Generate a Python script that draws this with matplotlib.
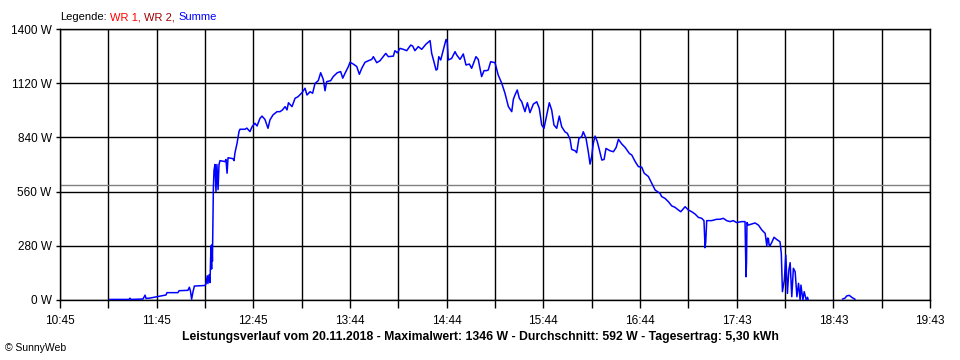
import numpy as np
import matplotlib.pyplot as plt
from matplotlib.offsetbox import TextArea, HPacker, AnchoredOffsetbox

plt.rcParams['font.family'] = ['Liberation Sans', 'DejaVu Sans']

# Summe power curve, minutes after 10:45 and watts
t_min = [31.0, 42.8, 43.4, 44.1, 51.5, 52.8, 53.4, 55.9, 59.0, 65.8, 66.4, 73.2, 73.9,
         79.4, 80.3, 81.0, 81.7, 82.5, 83.4, 90.0, 90.6, 91.4, 91.8, 92.5, 93.1, 93.7,
         94.1, 94.3, 94.6, 95.2, 95.6, 96.2, 96.8, 97.4, 98.1, 98.7, 99.3, 102.4, 103.0,
         103.7, 104.3, 107.4, 108.0, 108.6, 109.9, 111.1, 111.7, 114.8, 116.0, 117.9,
         119.2, 121.0, 122.3, 124.1, 125.4, 127.2, 129.1, 130.3, 132.2, 134.7, 136.6,
         138.1, 139.7, 140.9, 141.8, 144.0, 145.9, 147.7, 150.2, 152.1, 153.3, 155.2,
         156.8, 158.3, 160.3, 161.8, 163.4, 164.5, 165.5, 168.0, 169.6, 172.1, 174.2,
         175.5, 176.9, 179.0, 180.0, 182.0, 184.2, 185.8, 187.3, 189.3, 191.4, 193.5,
         194.5, 196.6, 198.6, 200.3, 202.2, 203.8, 206.9, 207.9, 209.4, 211.0, 213.1,
         215.2, 217.7, 218.9, 220.3, 222.4, 224.5, 227.2, 229.7, 230.7, 232.1, 233.4,
         234.2, 235.1, 236.3, 237.9, 239.6, 240.4, 241.0, 243.1, 245.2, 246.2, 248.3,
         250.3, 252.0, 254.1, 255.5, 258.2, 259.6, 261.7, 263.2, 264.8, 265.8, 267.3,
         270.0, 272.0, 274.2, 276.2, 278.3, 280.4, 281.4, 282.4, 283.8, 285.1, 286.6,
         288.6, 290.1, 291.7, 293.8, 295.9, 297.5, 299.0, 300.4, 302.1, 303.7, 305.2,
         306.6, 308.3, 309.9, 311.4, 313.4, 314.9, 316.6, 317.6, 319.7, 320.7, 322.1,
         323.8, 324.8, 326.5, 327.9, 329.0, 330.0, 331.0, 332.1, 333.5, 334.8, 336.3,
         337.7, 338.9, 341.4, 343.5, 345.2, 346.6, 348.7, 350.8, 353.4, 354.9, 357.0,
         359.0, 361.1, 362.6, 365.2, 367.3, 369.4, 372.4, 373.5, 375.5, 377.6, 379.7,
         381.7, 383.8, 385.3, 388.0, 390.0, 392.1, 394.2, 396.2, 398.3, 399.7, 400.4,
         400.8, 401.4, 404.5, 407.6, 409.7, 411.7, 413.8, 415.9, 417.9, 420.0, 423.1,
         425.2, 425.8, 426.1, 426.4, 427.2, 429.4, 431.4, 433.5, 435.6, 437.7, 438.7,
         439.2, 439.7, 440.1, 440.6, 441.7, 443.2, 444.8, 446.9, 447.7, 448.4, 449.6,
         450.5, 451.5, 452.4, 453.2, 454.2, 455.2, 456.3, 457.4, 458.4, 459.4, 459.9,
         461.1, 461.9, 463.2, 464.0, 464.4, 475.0, 485.8, 487.3, 488.3, 489.9, 491.4,
         493.4]
p_w = [3, 3, 9, 3, 5, 25, 8, 10, 15, 26, 38, 38, 48,
       50, 66, 45, 4, 40, 72, 75, 83, 125, 85, 130, 90, 280,
       160, 285, 200, 580, 670, 700, 560, 700, 570, 700, 720, 715, 726,
       655, 735, 730, 720, 760, 810, 870, 882, 882, 888, 870,
       895, 913, 899, 938, 950, 933, 887, 930, 956, 973, 973,
       982, 999, 982, 1019, 999, 1042, 1050, 1071, 1094, 1059, 1076,
       1068, 1119, 1133, 1174, 1140, 1081, 1128, 1133, 1154, 1174, 1180,
       1146, 1171, 1206, 1228, 1219, 1206, 1166, 1197, 1228, 1236, 1243,
       1257, 1226, 1236, 1254, 1274, 1257, 1260, 1288, 1277, 1300, 1295,
       1288, 1317, 1312, 1288, 1309, 1295, 1322, 1340, 1274, 1231, 1188,
       1192, 1257, 1240, 1291, 1346, 1329, 1240, 1248, 1283, 1266, 1243,
       1271, 1214, 1219, 1197, 1257, 1243, 1154, 1185, 1185, 1188, 1231,
       1226, 1162, 1119, 1068, 999, 973, 1037, 1059, 1085, 1042, 1024,
       973, 1019, 968, 1012, 1024, 990, 904, 887, 956, 1019, 981,
       904, 887, 950, 895, 869, 861, 830, 778, 771, 761, 835,
       844, 869, 835, 766, 702, 740, 809, 847, 818, 775, 723,
       726, 783, 771, 766, 788, 830, 806, 788, 757, 749, 715,
       689, 686, 655, 638, 603, 568, 551, 534, 525, 508, 486,
       479, 465, 456, 482, 465, 456, 444, 427, 422, 410, 270,
       300, 410, 410, 417, 417, 422, 410, 405, 410, 400, 405,
       405, 120, 190, 400, 387, 393, 398, 387, 362, 344, 279,
       320, 318, 285, 279, 296, 324, 313, 301, 241, 43, 103,
       232, 34, 155, 193, 17, 164, 146, 17, 86, 0, 77,
       0, 43, 0, 14, 0, np.nan, 5, 10, 21, 24, 14,
       4]

hour_labels = ["10:45", "11:45", "12:45", "13:44", "14:44", "15:44",
               "16:44", "17:43", "18:43", "19:43"]
y_values = [0, 280, 560, 840, 1120, 1400]
avg_w = 592
title = ("Leistungsverlauf vom 20.11.2018 - Maximalwert: 1346 W - "
         "Durchschnitt: 592 W - Tagesertrag: 5,30 kWh")

fig = plt.figure(figsize=(9.6, 3.6), dpi=100)
ax = fig.add_axes([60/960, 60/360, 870/960, 271/360])

ax.plot(t_min, p_w, color='#0000FF', lw=1.1, zorder=3)
ax.axhline(avg_w, color='#808080', lw=1, zorder=2)

ax.set_xlim(0, 540)
ax.set_ylim(0, 1400)
xt = list(range(0, 541, 30))
ax.set_xticks(xt)
ax.set_xticklabels([hour_labels[i // 2] if i % 2 == 0 else "" for i in range(len(xt))])
ax.set_yticks(y_values)
ax.set_yticklabels([f"{v} W" for v in y_values])
ax.grid(color='black', lw=1, zorder=1)
ax.set_axisbelow(True)
for s in ax.spines.values():
    s.set_color('black')
    s.set_linewidth(1)
ax.tick_params(axis='x', direction='out', length=6, width=1, pad=5, labelsize=8.5)
ax.tick_params(axis='y', direction='out', length=3, width=1, pad=3, labelsize=8.5)

# coloured legend line at the top
parts = [("Legende:", "black"), ("WR 1,", "#FF0000"), ("WR 2,", "#A00000"), ("Summe", "#0000FF")]
boxes = [TextArea(s, textprops=dict(color=c, fontsize=8)) for s, c in parts]
pack = HPacker(children=boxes, pad=0, sep=2.5)
anch = AnchoredOffsetbox(loc='center left', child=pack, pad=0, borderpad=0, frameon=False,
                         bbox_to_anchor=(60/960, 1 - 17/360), bbox_transform=fig.transFigure)
fig.add_artist(anch)

fig.text(480/960, 1 - 337/360, title, ha='center', va='center', fontsize=8.8, fontweight='bold')
fig.text(5/960, 1 - 348/360, "© SunnyWeb", ha='left', va='center', fontsize=7.5)

fig.savefig('out.png', dpi=100, facecolor='white')
